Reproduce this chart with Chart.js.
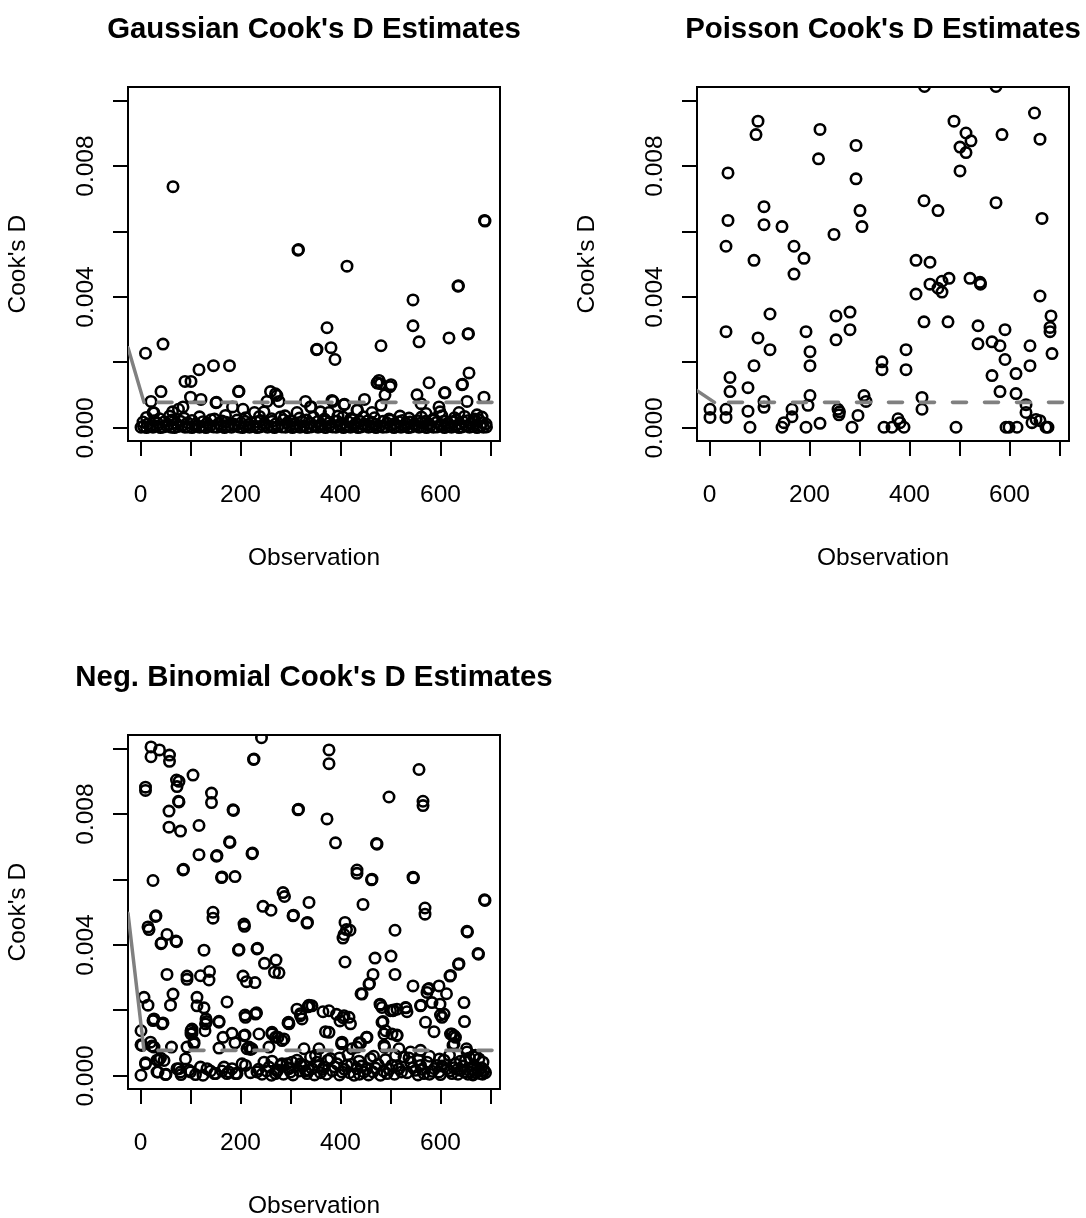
<!DOCTYPE html>
<html>
<head>
<meta charset="utf-8">
<script src="https://cdn.jsdelivr.net/npm/chart.js"></script>
<style>
  html, body { margin: 0; padding: 0; background: #fff; overflow: hidden; }
  body { width: 1086px; height: 1218px; position: relative; }
  canvas { position: absolute; }
</style>
</head>
<body>
<canvas id="gauss" width="628" height="609" style="left:0;top:0"></canvas>
<canvas id="pois" width="628" height="609" style="left:569px;top:0"></canvas>
<canvas id="nb" width="628" height="609" style="left:0;top:648px"></canvas>
<script>
// axis ticks, same for all three panels
const xTicks = [0, 100, 200, 300, 400, 500, 600, 700];
const xTickLabels = ["0", "", "200", "", "400", "", "600", ""];
const yTicks = [0, 0.002, 0.004, 0.006, 0.008, 0.010];
const yTickLabels = ["0.000", "", "0.004", "", "0.008", ""];
const xRange = [-25, 719];
const yRange = [-0.0004, 0.0104];

// Cook's D values are given in units of 0.001 as [observation, D]
const cutoffD = 0.78;

const gaussCooks = [
  [65,7.37],[315,5.43],[316,5.45],[413,4.94],[688,6.34],[689,6.32],[635,4.33],[636,4.34],
  [545,3.91],[545,3.12],[557,2.63],[655,2.87],[656,2.88],[617,2.75],[373,3.06],[352,2.39],
  [353,2.40],[381,2.45],[389,2.09],[481,2.51],[45,2.56],[10,2.28],[146,1.90],[178,1.90],
  [117,1.78],[89,1.42],[101,1.42],[41,1.11],[196,1.11],[197,1.12],[260,1.11],[273,0.99],
  [277,0.81],[21,0.81],[25,0.47],[100,0.94],[121,0.87],[151,0.77],[152,0.78],[184,0.64],
  [205,0.57],[85,0.64],[64,0.49],[76,0.57],[228,0.47],[247,0.49],[253,0.81],[280,0.33],
  [313,0.47],[330,0.81],[340,0.64],[341,0.65],[360,0.49],[377,0.47],[385,0.81],[407,0.71],
  [408,0.72],[405,0.33],[433,0.54],[434,0.55],[448,0.87],[463,0.47],[473,1.38],[474,1.37],
  [477,1.45],[501,1.32],[489,1.01],[481,0.69],[553,1.01],[561,0.74],[577,1.38],[571,0.44],
  [608,1.07],[609,1.08],[597,0.64],[599,0.49],[643,1.32],[644,1.33],[657,1.68],[653,0.81],
  [637,0.47],[687,0.94],[673,0.40],[270,1.04],[480,1.35],[499,1.26],[383,0.84],[27,0.46],
  // dense band near zero
  [1,0.02],[6,0.05],[12,0.01],[19,0.04],[25,0.02],[33,0.06],[40,0.01],[46,0.03],[53,0.05],
  [61,0.02],[68,0.01],[74,0.04],[82,0.06],[89,0.02],[95,0.03],[103,0.01],[110,0.05],[118,0.02],
  [125,0.04],[131,0.01],[139,0.06],[146,0.03],[153,0.02],[161,0.05],[168,0.01],[174,0.04],
  [182,0.02],[189,0.06],[197,0.03],[204,0.01],[210,0.05],[218,0.02],[226,0.04],[233,0.01],
  [239,0.03],[247,0.06],[254,0.02],[262,0.04],[268,0.01],[275,0.05],[283,0.03],[290,0.02],
  [298,0.06],[304,0.01],[311,0.04],[319,0.02],[326,0.05],[333,0.01],[341,0.03],[348,0.06],
  [355,0.02],[362,0.04],[370,0.01],[377,0.05],[384,0.03],[391,0.02],[399,0.06],[406,0.01],
  [413,0.04],[420,0.02],[428,0.05],[435,0.01],[441,0.03],[449,0.06],[456,0.02],[463,0.04],
  [471,0.01],[478,0.05],[485,0.02],[492,0.03],[500,0.06],[507,0.01],[514,0.04],[521,0.02],
  [529,0.05],[536,0.01],[542,0.03],[550,0.06],[557,0.02],[564,0.04],[572,0.01],[579,0.05],
  [586,0.02],[593,0.03],[601,0.06],[608,0.01],[615,0.04],[622,0.02],[630,0.05],[637,0.01],
  [643,0.03],[651,0.06],[658,0.02],[665,0.04],[673,0.01],[680,0.05],[686,0.02],[692,0.03],
  [5,0.18],[14,0.12],[27,0.22],[34,0.15],[48,0.19],[55,0.11],[63,0.24],[71,0.14],[80,0.20],
  [94,0.16],[103,0.23],[110,0.12],[125,0.19],[133,0.15],[141,0.25],[156,0.13],[163,0.21],
  [171,0.17],[186,0.12],[193,0.24],[201,0.15],[209,0.20],[217,0.11],[232,0.18],[240,0.23],
  [248,0.14],[263,0.20],[270,0.12],[286,0.25],[294,0.16],[301,0.21],[309,0.13],[324,0.19],
  [332,0.24],[340,0.14],[355,0.20],[362,0.11],[370,0.23],[378,0.16],[393,0.21],[401,0.13],
  [416,0.18],[424,0.25],[431,0.15],[439,0.20],[447,0.12],[455,0.22],[462,0.17],[470,0.11],
  [485,0.20],[493,0.15],[500,0.24],[508,0.13],[516,0.19],[524,0.23],[531,0.14],[539,0.18],
  [547,0.12],[554,0.22],[562,0.16],[570,0.20],[577,0.13],[585,0.24],[592,0.17],[600,0.11],
  [608,0.21],[615,0.15],[623,0.19],[631,0.24],[638,0.13],[646,0.18],[654,0.22],[661,0.14],
  [669,0.20],[677,0.25],[684,0.16],[691,0.12],
  [12,0.32],[38,0.28],[58,0.36],[87,0.30],[118,0.34],[148,0.27],[170,0.38],[210,0.31],
  [238,0.35],[262,0.28],[289,0.37],[318,0.30],[346,0.33],[368,0.27],[395,0.36],[421,0.29],
  [446,0.34],[468,0.31],[497,0.27],[519,0.36],[537,0.30],[562,0.33],[586,0.28],[603,0.37],
  [628,0.31],[648,0.35],[668,0.27],[683,0.33]
];

const poisCooks = [
  [430,10.43],[573,10.43],[650,9.62],[97,9.37],[93,8.96],[221,9.12],[489,9.37],[513,9.01],
  [523,8.77],[501,8.58],[513,8.41],[585,8.96],[661,8.82],[293,8.63],[218,8.22],[37,7.79],
  [501,7.85],[293,7.61],[429,6.94],[573,6.88],[109,6.76],[457,6.64],[301,6.64],[665,6.40],
  [37,6.34],[109,6.21],[145,6.15],[305,6.15],[249,5.91],[33,5.55],[169,5.55],[189,5.18],
  [89,5.12],[169,4.70],[413,5.12],[441,5.06],[441,4.39],[465,4.48],[479,4.57],[457,4.27],
  [465,4.15],[521,4.57],[541,4.45],[542,4.39],[413,4.09],[661,4.03],[121,3.48],[253,3.42],
  [281,3.54],[429,3.24],[477,3.24],[683,3.42],[681,3.07],[681,2.94],[33,2.94],[537,3.12],
  [591,3.00],[193,2.94],[281,3.00],[97,2.75],[253,2.69],[537,2.57],[565,2.63],[581,2.51],
  [641,2.51],[121,2.39],[201,2.33],[393,2.39],[685,2.27],[591,2.09],[345,2.02],[89,1.90],
  [201,1.90],[641,1.90],[345,1.78],[393,1.78],[565,1.60],[613,1.66],[41,1.54],[77,1.23],
  [41,1.11],[581,1.11],[613,1.05],[201,0.99],[309,0.99],[425,0.93],[313,0.81],[109,0.81],
  [109,0.63],[197,0.69],[633,0.71],[633,0.47],[1,0.57],[1,0.32],[33,0.57],[33,0.32],
  [77,0.51],[165,0.57],[165,0.34],[149,0.16],[145,0.02],[81,0.02],[193,0.02],[221,0.14],
  [257,0.57],[260,0.49],[259,0.40],[285,0.02],[297,0.38],[349,0.02],[365,0.02],[377,0.28],
  [381,0.16],[389,0.02],[425,0.57],[493,0.02],[593,0.02],[599,0.02],[615,0.02],[645,0.16],
  [653,0.26],[661,0.22],[673,0.02],[677,0.02]
];

const nbCooks = [
  [21,10.05],[38,9.96],[21,9.75],[58,9.80],[58,9.61],[242,10.33],[226,9.67],[227,9.68],
  [377,9.96],[377,9.54],[557,9.36],[10,8.82],[10,8.72],[72,9.04],[77,9.00],[73,8.84],
  [105,9.19],[142,8.64],[142,8.35],[77,8.37],[76,8.39],[57,8.09],[57,7.60],[80,7.48],
  [117,7.65],[185,8.13],[186,8.11],[315,8.13],[316,8.15],[373,7.85],[390,7.12],[497,8.52],
  [565,8.39],[565,8.26],[117,6.76],[152,6.71],[153,6.73],[178,7.15],[179,7.13],[223,6.79],
  [224,6.81],[85,6.29],[86,6.31],[25,5.97],[162,6.06],[163,6.08],[189,6.09],[472,7.10],
  [473,7.08],[433,6.29],[433,6.19],[462,5.99],[463,6.01],[545,6.07],[546,6.05],[285,5.60],
  [288,5.48],[245,5.18],[261,5.06],[337,5.30],[305,4.89],[306,4.91],[333,4.67],[334,4.69],
  [445,5.24],[688,5.38],[689,5.36],[569,5.13],[569,4.94],[30,4.87],[31,4.89],[15,4.55],
  [17,4.47],[145,5.00],[145,4.82],[207,4.64],[208,4.57],[409,4.69],[412,4.47],[407,4.32],
  [405,4.21],[419,4.45],[509,4.45],[653,4.42],[654,4.40],[53,4.32],[41,4.04],[42,4.06],
  [71,4.12],[72,4.10],[127,3.84],[196,3.84],[197,3.86],[233,3.88],[234,3.90],[248,3.44],
  [271,3.54],[268,3.17],[277,3.15],[409,3.48],[469,3.60],[501,3.66],[675,3.74],[676,3.72],
  [636,3.41],[637,3.43],[53,3.10],[93,3.05],[93,2.95],[120,3.06],[138,3.19],[137,2.93],
  [205,3.05],[212,2.88],[229,2.85],[509,3.10],[465,3.10],[457,2.80],[458,2.82],[545,2.75],
  [619,3.05],[620,3.07],[597,2.75],[577,2.67],[573,2.55],[612,2.51],[441,2.51],[443,2.50],
  [575,2.65],[583,2.24],[7,2.40],[15,2.16],[65,2.50],[60,2.16],[113,2.40],[113,2.14],
  [127,2.08],[173,2.26],[131,1.74],[132,1.66],[157,1.64],[25,1.69],[26,1.71],[45,1.62],
  [101,1.38],[101,1.28],[129,1.38],[209,1.86],[231,1.91],[232,1.93],[313,2.04],[320,1.90],
  [323,1.74],[337,2.16],[338,2.14],[295,1.62],[296,1.64],[365,1.96],[392,1.88],[399,1.68],
  [405,1.78],[370,1.35],[479,2.19],[480,2.17],[505,1.99],[506,2.01],[531,2.08],[533,1.96],
  [561,2.16],[570,1.64],[587,1.35],[599,2.19],[600,1.86],[607,1.89],[647,2.24],[648,1.66],
  [485,1.66],[1,1.38],[1,0.95],[20,1.03],[23,0.91],[62,0.88],[107,0.98],[157,0.85],
  [165,1.18],[183,1.30],[189,1.01],[209,1.25],[237,1.28],[213,0.83],[220,0.81],[263,1.33],
  [270,1.18],[283,1.08],[402,0.98],[437,1.01],[452,1.18],[487,1.28],[513,1.25],[488,0.88],
  [540,0.73],[623,1.28],[630,1.18],[627,0.98],[653,0.73],[670,0.63],[93,0.88],[107,1.03],
  [210,1.79],[230,1.89],[207,1.23],[217,0.88],[223,0.83],[257,0.88],[263,1.28],[275,1.18],
  [287,1.13],[297,1.59],[320,1.84],[335,2.11],[327,0.83],[343,2.14],[377,1.99],[407,1.84],
  [417,1.79],[420,1.59],[377,1.33],[483,2.09],[500,1.99],[513,2.04],[530,2.09],[560,2.14],
  [483,1.64],[490,1.38],[503,1.28],[513,1.23],[603,1.79],[620,1.28],[627,1.23],[625,0.93],
  [453,1.18],[440,1.00],[433,0.88],[403,1.03],[357,0.83],[423,0.83],[487,0.93],[517,0.83],
  [560,0.78],[652,0.83],[667,0.62],[677,0.52],[27,1.74],[43,1.59],[3,0.93],[27,0.88],
  [103,1.43],[103,1.30],[130,1.59],[157,1.67],
  // lower band
  [1,0.02],[10,0.40],[33,0.48],[40,0.55],[33,0.12],[50,0.04],[77,0.22],[81,0.04],[97,0.17],
  [110,0.04],[120,0.27],[133,0.22],[148,0.07],[167,0.27],[177,0.12],[193,0.07],[203,0.37],
  [220,0.10],[233,0.12],[247,0.42],[257,0.27],[270,0.07],[280,0.32],[293,0.37],[300,0.12],
  [313,0.48],[327,0.32],[333,0.07],[340,0.58],[343,0.22],[353,0.42],[360,0.10],[367,0.27],
  [380,0.53],[393,0.37],[403,0.12],[413,0.32],[427,0.02],[433,0.22],[447,0.12],[460,0.53],
  [470,0.24],[480,0.02],[493,0.07],[503,0.32],[517,0.22],[527,0.58],[533,0.10],[540,0.42],
  [550,0.17],[560,0.32],[567,0.07],[573,0.42],[583,0.14],[593,0.32],[600,0.04],[607,0.48],
  [613,0.22],[623,0.07],[630,0.37],[640,0.17],[650,0.48],[660,0.12],[667,0.58],[673,0.22],
  [680,0.07],[687,0.17],[10,0.37],[37,0.49],[47,0.47],[35,0.12],[51,0.05],[73,0.22],
  [80,0.12],[100,0.12],[90,0.52],[125,0.02],[140,0.15],[150,0.07],[163,0.15],[173,0.07],
  [183,0.22],[190,0.07],[210,0.32],[263,0.45],[273,0.15],[283,0.37],[297,0.22],[303,0.42],
  [320,0.37],[330,0.15],[236,0.20],[243,0.05],[252,0.15],[262,0.02],[275,0.18],[286,0.05],
  [296,0.25],[305,0.03],[318,0.15],[322,0.30],[336,0.18],[348,0.03],[356,0.30],[364,0.20],
  [372,0.05],[384,0.15],[388,0.28],[398,0.03],[408,0.20],[418,0.10],[422,0.35],[438,0.05],
  [442,0.30],[452,0.20],[456,0.03],[465,0.12],[475,0.35],[486,0.15],[498,0.20],[508,0.05],
  [512,0.30],[522,0.12],[545,0.25],[555,0.03],[563,0.20],[578,0.05],[588,0.22],[597,0.12],
  [603,0.30],[618,0.15],[627,0.25],[635,0.05],[645,0.30],[655,0.05],[663,0.20],[670,0.10],
  [676,0.15],[684,0.05],[690,0.10],[682,0.25],[665,0.03],[648,0.12],[634,0.20],[350,0.62],
  [375,0.48],[398,0.55],[415,0.65],[437,0.45],[466,0.60],[490,0.50],[510,0.62],[537,0.55],
  [556,0.48],[578,0.60],[598,0.52],[618,0.63],[640,0.45],[658,0.55],[685,0.42]
];

// grey solid segment at the left edge: [start obs, end obs] and start D
const gaussTrend = { obs: [-25, 7], d: 2.45 };
const poisTrend = { obs: [-25, 10], d: 1.14 };
const nbTrend = { obs: [-25, 7], d: 4.97 };

const FONT = "'Liberation Sans', Arial, Helvetica, sans-serif";
Chart.defaults.font.family = FONT;
Chart.defaults.color = "#000";

function makePanel(id, title, cooks, trend) {
  const grey = "#808080";
  new Chart(document.getElementById(id), {
    type: "scatter",
    data: {
      datasets: [
        {
          type: "line",
          data: [{ x: trend.obs[0], y: trend.d / 1000 }, { x: trend.obs[1], y: cutoffD / 1000 }],
          borderColor: grey, borderWidth: 3.5, borderCapStyle: "round",
          pointRadius: 0, clip: 0
        },
        {
          type: "line",
          data: [{ x: trend.obs[1], y: cutoffD / 1000 }, { x: xRange[1], y: cutoffD / 1000 }],
          borderColor: grey, borderWidth: 3.6, borderCapStyle: "round",
          borderDash: [14, 18], borderDashOffset: 18,
          pointRadius: 0, clip: 0
        },
        {
          data: cooks.map(p => ({ x: p[0], y: p[1] / 1000 })),
          pointStyle: "circle", pointRadius: 5.2, pointBorderWidth: 2.6,
          pointBorderColor: "#000", pointBackgroundColor: "rgba(0,0,0,0)",
          clip: 0
        }
      ]
    },
    options: {
      responsive: false,
      animation: false,
      devicePixelRatio: 1,
      events: [],
      layout: { padding: 0 },
      plugins: {
        legend: { display: false },
        tooltip: { enabled: false },
        title: {
          display: true, text: title, color: "#000",
          font: { size: 29.4, weight: "bold" },
          padding: { top: 12.6, bottom: 39.6 }
        }
      },
      scales: {
        x: {
          type: "linear", position: "bottom", min: xRange[0], max: xRange[1],
          afterBuildTicks: s => { s.ticks = xTicks.map(v => ({ value: v })); },
          afterFit: s => { s.height = 168; },
          grid: { drawOnChartArea: false, drawTicks: true, tickLength: 15, color: "#000", lineWidth: 2 },
          border: { display: true, color: "#000", width: 2 },
          ticks: {
            autoSkip: false, maxRotation: 0, padding: 25, color: "#000",
            font: { size: 24.5 },
            callback: v => xTickLabels[xTicks.indexOf(v)]
          },
          title: { display: true, text: "Observation", color: "#000", font: { size: 24.5 }, padding: { top: 0, bottom: 35.6 } }
        },
        y: {
          type: "linear", position: "left", min: yRange[0], max: yRange[1],
          afterBuildTicks: s => { s.ticks = yTicks.map(v => ({ value: v })); },
          afterFit: s => { s.width = 128; },
          grid: { drawOnChartArea: false, drawTicks: true, tickLength: 15, color: "#000", lineWidth: 2 },
          border: { display: true, color: "#000", width: 2 },
          ticks: {
            autoSkip: false, minRotation: 90, maxRotation: 90, crossAlign: "center",
            padding: -4, color: "#000", font: { size: 24.5 },
            callback: v => yTickLabels[yTicks.findIndex(t => Math.abs(t - v) < 1e-9)]
          },
          title: { display: true, text: "Cook's D", color: "#000", font: { size: 24.5 }, padding: { top: 3.3, bottom: 0 } }
        },
        x2: {
          type: "linear", position: "top",
          afterFit: s => { s.height = 0; },
          grid: { display: false }, ticks: { display: false },
          border: { display: true, color: "#000", width: 2 }
        },
        y2: {
          type: "linear", position: "right",
          afterFit: s => { s.width = 128; },
          grid: { display: false }, ticks: { display: false },
          border: { display: true, color: "#000", width: 2 }
        }
      }
    }
  });
}

makePanel("gauss", "Gaussian Cook's D Estimates", gaussCooks, gaussTrend);
makePanel("pois", "Poisson Cook's D Estimates", poisCooks, poisTrend);
makePanel("nb", "Neg. Binomial Cook's D Estimates", nbCooks, nbTrend);
</script>
</body>
</html>
